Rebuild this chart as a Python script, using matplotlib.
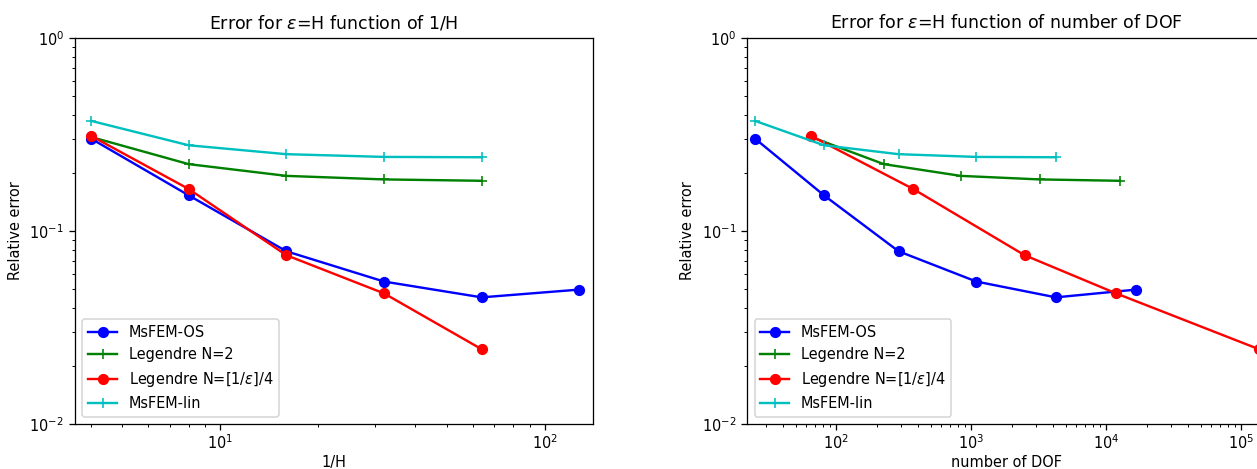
import matplotlib
matplotlib.use("Agg")
import matplotlib.pyplot as plt

plt.rcParams['font.size'] = 9.1
plt.rcParams['xtick.major.pad'] = 2.5

# 1/H values
inv_h = [4, 8, 16, 32, 64, 128]

# relative errors
err_os = [0.301, 0.153, 0.0785, 0.0547, 0.0453, 0.0497]
err_leg2 = [0.307, 0.222, 0.193, 0.185, 0.182]
err_legN = [0.311, 0.165, 0.0749, 0.0475, 0.0244]
err_lin = [0.372, 0.278, 0.250, 0.242, 0.241]

# number of DOF
dof_os = [25, 81, 289, 1089, 4225, 16641]
dof_leg2 = [65, 225, 833, 3201, 12545]
dof_legN = [65, 371, 2480, 11800, 135000]
dof_lin = [25, 81, 289, 1089, 4225]

labels = ["MsFEM-OS", "Legendre N=2", r"Legendre N=[1/$\epsilon$]/4", "MsFEM-lin"]

fig = plt.figure(figsize=(1257 / 115, 469 / 115), dpi=115)
ax1 = fig.add_axes([0.0597, 0.096, 0.412, 0.823])
ax2 = fig.add_axes([0.5945, 0.096, 0.412, 0.823])

# left: error vs 1/H
ax1.loglog(inv_h, err_os, 'bo-', label=labels[0])
ax1.loglog(inv_h[:5], err_leg2, 'g+-', label=labels[1])
ax1.loglog(inv_h[:5], err_legN, 'ro-', label=labels[2])
ax1.loglog(inv_h[:5], err_lin, 'c+-', label=labels[3])
ax1.set_xlim(3.57, 141)
ax1.set_ylim(1e-2, 1)
ax1.set_xlabel("1/H", labelpad=1.5)
ax1.set_ylabel("Relative error")
ax1.set_title(r"Error for $\epsilon$=H function of 1/H")
ax1.legend(loc="lower left")

# right: error vs DOF
ax2.loglog(dof_os, err_os, 'bo-', label=labels[0])
ax2.loglog(dof_leg2, err_leg2, 'g+-', label=labels[1])
ax2.loglog(dof_legN, err_legN, 'ro-', label=labels[2])
ax2.loglog(dof_lin, err_lin, 'c+-', label=labels[3])
ax2.set_xlim(21.9, 1.5e5)
ax2.set_ylim(1e-2, 1)
ax2.set_xlabel("number of DOF", labelpad=1.5)
ax2.set_ylabel("Relative error")
ax2.set_title(r"Error for $\epsilon$=H function of number of DOF")
ax2.legend(loc="lower left")

fig.savefig("out.png", dpi=115)
